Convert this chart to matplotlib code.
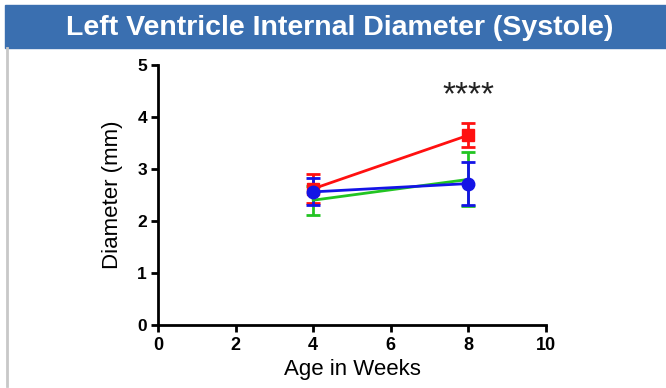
import matplotlib.pyplot as plt
from matplotlib.patches import Rectangle

plt.rcParams['font.family'] = ['Liberation Sans', 'DejaVu Sans']

weeks = [4, 8]
green_mean = [2.40, 2.80]
green_err = [0.28, 0.52]
red_mean = [2.62, 3.65]
red_err = [0.28, 0.23]
blue_mean = [2.56, 2.72]
blue_err = [0.26, 0.41]

fig = plt.figure(figsize=(6.66, 3.88), dpi=100)

# title band
fig.patches.append(Rectangle((5 / 666, 1 - 48 / 388), 1, 43 / 388,
                             transform=fig.transFigure, color='#3a6fb0', zorder=0))
fig.text(340 / 666, 1 - 28 / 388, 'Left Ventricle Internal Diameter (Systole)',
         color='white', fontsize=20.5, fontweight='bold', ha='center', va='center')
fig.lines.append(plt.Line2D([6.5 / 666, 6.5 / 666], [1 - 48 / 388, 2 / 388],
                            transform=fig.transFigure, color='#c8c8c8', lw=2))

ax = fig.add_axes([158 / 666, 63 / 388, 388 / 666, 260 / 388])

ax.errorbar(weeks, green_mean, yerr=green_err, color='#22c422', lw=2, capsize=5,
            capthick=2, elinewidth=2, clip_on=False)
ax.errorbar(weeks, red_mean, yerr=red_err, color='#ff1010', lw=2, capsize=5,
            capthick=2, elinewidth=2, marker='s', ms=9, clip_on=False)
ax.errorbar(weeks, blue_mean, yerr=blue_err, color='#1414e6', lw=2, capsize=5,
            capthick=2, elinewidth=2, marker='o', ms=9, clip_on=False)

ax.text(8, 4.40, '****', ha='center', va='center', fontsize=24, color='#222222')

ax.set_xlim(0, 10)
ax.set_ylim(0, 5)
ax.set_xticks([0, 2, 4, 6, 8, 10])
ax.set_yticks([0, 1, 2, 3, 4, 5])
for s in ['top', 'right']:
    ax.spines[s].set_visible(False)
for s in ['left', 'bottom']:
    ax.spines[s].set_linewidth(2)
ax.tick_params(width=2, length=5)
ax.tick_params(axis='x', labelsize=13, pad=4)
ax.tick_params(axis='y', labelsize=12.5, pad=3)
for lab in ax.get_xticklabels() + ax.get_yticklabels():
    lab.set_fontweight('bold')

ax.set_xlabel('Age in Weeks', fontsize=16, labelpad=3)
ax.set_ylabel('Diameter (mm)', fontsize=16, labelpad=10)

fig.savefig('out.png', dpi=100)
